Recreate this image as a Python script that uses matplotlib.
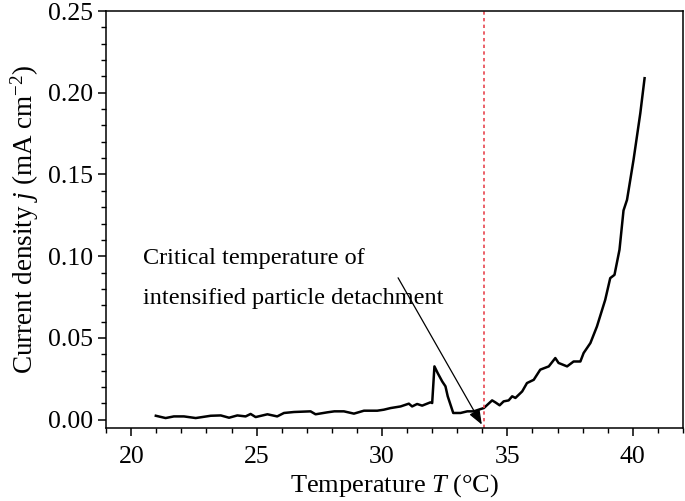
import numpy as np
import matplotlib.pyplot as plt

plt.rcParams['font.family'] = ['Liberation Serif', 'DejaVu Serif']
plt.rcParams['mathtext.fontset'] = 'custom'
plt.rcParams['mathtext.rm'] = 'Liberation Serif'
plt.rcParams['mathtext.it'] = 'Liberation Serif:italic'

# Temperature (degC) and current density (mA cm^-2)
temperature = [20.98, 21.37, 21.7, 22.1, 22.57, 23.17, 23.57, 23.9, 24.23, 24.56,
               24.76, 24.96, 25.43, 25.82, 26.09, 26.49, 27.15, 27.35, 27.82, 28.1,
               28.48, 28.88, 29.28, 29.81, 30.07, 30.34, 30.74, 31.07, 31.2, 31.4,
               31.6, 31.93, 32.0, 32.09, 32.22, 32.4, 32.53, 32.62, 32.73, 32.84,
               33.13, 33.4, 33.66, 33.93, 34.06, 34.39, 34.52, 34.69, 34.85, 35.05,
               35.19, 35.32, 35.59, 35.78, 36.05, 36.31, 36.65, 36.91, 37.04, 37.38,
               37.64, 37.91, 38.04, 38.31, 38.57, 38.9, 39.1, 39.27, 39.47, 39.63,
               39.77, 40.03, 40.3, 40.47]
current_density = [0.0024, 0.001, 0.002, 0.002, 0.001, 0.0024, 0.0026, 0.0012, 0.0026, 0.002,
                   0.0035, 0.0016, 0.0033, 0.002, 0.0041, 0.0047, 0.0051, 0.0033, 0.0045, 0.0051,
                   0.0051, 0.0037, 0.0055, 0.0055, 0.0061, 0.0071, 0.0081, 0.0098, 0.0081, 0.0096,
                   0.0086, 0.0106, 0.0102, 0.0326, 0.0285, 0.0234, 0.0204, 0.0143, 0.0092, 0.0041,
                   0.0041, 0.0051, 0.0051, 0.0065, 0.0071, 0.0118, 0.0106, 0.0088, 0.0112, 0.0118,
                   0.0143, 0.0133, 0.0173, 0.0224, 0.0244, 0.0306, 0.0326, 0.0377, 0.0347, 0.0326,
                   0.0356, 0.0356, 0.0408, 0.0469, 0.057, 0.0733, 0.0866, 0.0886, 0.104, 0.128,
                   0.1345, 0.159, 0.1875, 0.2089]

critical_T = 34.05

fig, ax = plt.subplots(figsize=(6.85, 5.01), dpi=100)
fig.subplots_adjust(left=0.155, right=0.997, bottom=0.146, top=0.978)

ax.plot(temperature, current_density, color='black', lw=1.8)
ax.axvline(critical_T, color='#e8464f', lw=1.2, linestyle=(0, (2, 2)))

ax.annotate('', xy=(33.98, -0.003), xytext=(30.64, 0.0868),
            arrowprops=dict(arrowstyle='-|>,head_length=0.9,head_width=0.35',
                            color='black', lw=0.9, shrinkA=0, shrinkB=0))
ax.text(20.45, 0.0985, 'Critical temperature of', fontsize=17.5, va='center')
ax.text(20.45, 0.074, 'intensified particle detachment', fontsize=17.5, va='center')

ax.set_xlim(19, 42)
ax.set_ylim(-0.005, 0.25)
ax.set_xticks([20, 25, 30, 35, 40])
ax.set_xticks(np.arange(19, 43, 1), minor=True)
ax.set_yticks([0.0, 0.05, 0.10, 0.15, 0.20, 0.25])
ax.set_yticklabels(['0.00', '0.05', '0.10', '0.15', '0.20', '0.25'])
ax.set_yticks(np.arange(0, 0.251, 0.01), minor=True)

ax.tick_params(axis='both', which='major', direction='out', length=6, width=1.1,
               labelsize=18.5, top=False, right=False)
ax.tick_params(axis='x', which='major', pad=7)
ax.tick_params(axis='both', which='minor', direction='out', length=3.5, width=1.0,
               top=False, right=False)
for s in ax.spines.values():
    s.set_linewidth(1.1)

ax.set_xlabel(r'Temperature $T$ ($\degree$C)', fontsize=19, labelpad=3)
ax.set_ylabel(r'Current density $j$ (mA cm$^{-2}$)', fontsize=19.5, labelpad=5)

fig.savefig('out.png', dpi=100)
